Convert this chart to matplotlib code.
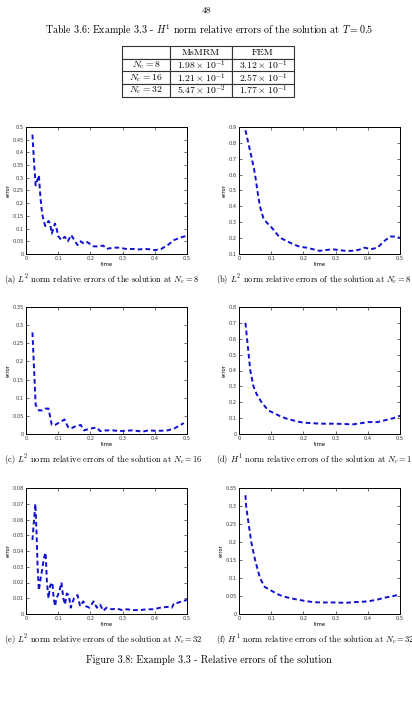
import matplotlib
matplotlib.use("Agg")
import matplotlib.pyplot as plt

plt.rcParams["mathtext.fontset"] = "cm"
plt.rcParams["axes.unicode_minus"] = False

# table data
nc_list = [8, 16, 32]
msmrm_err = [1.98e-1, 1.21e-1, 5.47e-2]
fem_err = [3.12e-1, 2.57e-1, 1.77e-1]

# (a) L2, Nc = 8
t_a = [0.02, 0.025, 0.03, 0.035, 0.04, 0.045, 0.05, 0.055, 0.06, 0.07, 0.075, 0.08,
       0.09, 0.095, 0.10, 0.11, 0.12, 0.13, 0.14, 0.15, 0.16, 0.17, 0.18, 0.19,
       0.21, 0.22, 0.24, 0.25, 0.27, 0.29, 0.31, 0.33, 0.35, 0.37, 0.39, 0.40,
       0.42, 0.44, 0.46, 0.48, 0.50]
e_a = [0.47, 0.36, 0.27, 0.29, 0.31, 0.22, 0.16, 0.13, 0.11, 0.13, 0.12, 0.08,
       0.12, 0.10, 0.07, 0.055, 0.068, 0.05, 0.075, 0.055, 0.035, 0.05, 0.04, 0.047,
       0.03, 0.03, 0.033, 0.02, 0.025, 0.025, 0.02, 0.02, 0.018, 0.02, 0.018, 0.015,
       0.02, 0.035, 0.055, 0.065, 0.072]

# (b) Nc = 8
t_b = [0.02, 0.03, 0.04, 0.05, 0.057, 0.065, 0.075, 0.085, 0.10, 0.12, 0.13, 0.15,
       0.17, 0.19, 0.21, 0.23, 0.25, 0.27, 0.29, 0.31, 0.33, 0.35, 0.37, 0.39,
       0.41, 0.43, 0.45, 0.47, 0.49, 0.50]
e_b = [0.88, 0.79, 0.70, 0.60, 0.50, 0.40, 0.33, 0.30, 0.27, 0.22, 0.20, 0.18,
       0.16, 0.145, 0.14, 0.13, 0.12, 0.125, 0.13, 0.125, 0.12, 0.12, 0.125, 0.14,
       0.13, 0.14, 0.18, 0.21, 0.21, 0.20]

# (c) L2, Nc = 16
t_c = [0.02, 0.03, 0.04, 0.05, 0.06, 0.07, 0.08, 0.09, 0.10, 0.12, 0.13, 0.14,
       0.15, 0.17, 0.18, 0.20, 0.22, 0.23, 0.25, 0.27, 0.29, 0.31, 0.33, 0.35,
       0.36, 0.38, 0.40, 0.42, 0.44, 0.46, 0.48, 0.49]
e_c = [0.28, 0.08, 0.065, 0.065, 0.07, 0.07, 0.025, 0.025, 0.03, 0.04, 0.02, 0.015,
       0.02, 0.025, 0.01, 0.015, 0.018, 0.008, 0.01, 0.01, 0.008, 0.009, 0.01, 0.008,
       0.006, 0.01, 0.009, 0.009, 0.01, 0.015, 0.025, 0.03]

# (d) H1, Nc = 16
t_d = [0.02, 0.025, 0.03, 0.035, 0.045, 0.055, 0.07, 0.09, 0.11, 0.13, 0.15, 0.17,
       0.19, 0.21, 0.23, 0.25, 0.29, 0.33, 0.35, 0.37, 0.40, 0.43, 0.45, 0.48, 0.50]
e_d = [0.70, 0.60, 0.50, 0.40, 0.30, 0.25, 0.20, 0.15, 0.13, 0.11, 0.095, 0.085,
       0.075, 0.07, 0.068, 0.065, 0.065, 0.063, 0.06, 0.065, 0.075, 0.075, 0.085, 0.10, 0.115]

# (e) L2, Nc = 32
t_e = [0.02, 0.023, 0.026, 0.029, 0.033, 0.036, 0.04, 0.045, 0.05, 0.055, 0.061,
       0.065, 0.07, 0.075, 0.082, 0.085, 0.09, 0.095, 0.103, 0.11, 0.116, 0.121,
       0.127, 0.133, 0.139, 0.149, 0.16, 0.168, 0.178, 0.186, 0.197, 0.21, 0.22,
       0.23, 0.24, 0.25, 0.267, 0.282, 0.298, 0.313, 0.334, 0.355, 0.375, 0.396,
       0.417, 0.438, 0.453, 0.46, 0.469, 0.484, 0.50]
e_e = [0.047, 0.055, 0.062, 0.07, 0.05, 0.03, 0.015, 0.022, 0.028, 0.035, 0.039,
       0.02, 0.01, 0.018, 0.02, 0.012, 0.005, 0.01, 0.014, 0.02, 0.01, 0.006,
       0.013, 0.012, 0.004, 0.01, 0.012, 0.005, 0.008, 0.005, 0.004, 0.008, 0.004,
       0.006, 0.002, 0.004, 0.003, 0.0035, 0.0025, 0.003, 0.0025, 0.0025, 0.003, 0.003,
       0.004, 0.0045, 0.004, 0.007, 0.007, 0.008, 0.009]

# (f) H1, Nc = 32
t_f = [0.02, 0.022, 0.03, 0.038, 0.05, 0.065, 0.08, 0.10, 0.12, 0.14, 0.17, 0.20,
       0.23, 0.26, 0.30, 0.33, 0.36, 0.40, 0.43, 0.45, 0.48, 0.50]
e_f = [0.33, 0.30, 0.25, 0.20, 0.15, 0.10, 0.075, 0.065, 0.055, 0.048, 0.042, 0.037,
       0.033, 0.032, 0.032, 0.031, 0.033, 0.035, 0.04, 0.045, 0.05, 0.055]

panels = [
    (t_a, e_a, 0.5, 0.05, "(a) $L^2$ norm relative errors of the solution at $N_c = 8$"),
    (t_b, e_b, 0.9, 0.1, "(b) $L^2$ norm relative errors of the solution at $N_c = 8$"),
    (t_c, e_c, 0.35, 0.05, "(c) $L^2$ norm relative errors of the solution at $N_c = 16$"),
    (t_d, e_d, 0.8, 0.1, "(d) $H^1$ norm relative errors of the solution at $N_c = 16$"),
    (t_e, e_e, 0.08, 0.01, "(e) $L^2$ norm relative errors of the solution at $N_c = 32$"),
    (t_f, e_f, 0.35, 0.05, "(f) $H^1$ norm relative errors of the solution at $N_c = 32$"),
]

W, H = 412, 701
fig = plt.figure(figsize=(W / 100, H / 100), dpi=100)
serif = "cmr10"

fig.text(206 / W, 1 - 11 / H, "48", ha="center", va="center", fontsize=7, family=serif)
fig.text(209 / W, 1 - 30 / H,
         "Table 3.6: Example 3.3 - $H^1$ norm relative errors of the solution at $T = 0.5$",
         ha="center", va="center", fontsize=7.2, family=serif)

# table
tax = fig.add_axes([122 / W, 1 - 97 / H, 172 / W, 51 / H])
tax.axis("off")


def sci(v):
    exp = int(f"{v:e}".split("e")[1])
    man = v / 10 ** exp
    return f"${man:.2f} \\times 10^{{{exp}}}$"


cells = [["", "MsMRM", "FEM"]]
for n, a, b in zip(nc_list, msmrm_err, fem_err):
    cells.append([f"$N_c = {n}$", sci(a), sci(b)])
tb = tax.table(cellText=cells, bbox=[0, 0, 1, 1], cellLoc="center",
               colWidths=[48, 62, 62])
tb.auto_set_font_size(False)
for (r, c), cell in tb.get_celld().items():
    cell.set_linewidth(0.8)
    cell.set_edgecolor("#333333")
    cell.get_text().set_fontsize(7)
    cell.get_text().set_family(serif)

rows_top = [127, 307, 488]
rows_bot = [254, 434, 614]
cols_left = [26, 239]
cap_y = [280, 460, 640]
cap_x = [4, 216]

for i, (t, e, ymax, ystep, cap) in enumerate(panels):
    r, c = divmod(i, 2)
    ax = fig.add_axes([cols_left[c] / W, 1 - rows_bot[r] / H, 161 / W,
                       (rows_bot[r] - rows_top[r]) / H])
    ax.plot(t, e, color="#1010d0", lw=1.4, dashes=(2.4, 1.6))
    ax.set_xlim(0, 0.5)
    lo = 0 if ymax < 0.9 else 0.1
    ax.set_ylim(lo, ymax)
    ax.set_xticks([0, 0.1, 0.2, 0.3, 0.4, 0.5])
    ax.set_xticklabels(["0", "0.1", "0.2", "0.3", "0.4", "0.5"])
    n = int(round((ymax - lo) / ystep))
    yt = [round(lo + k * ystep, 4) for k in range(n + 1)]
    ax.set_yticks(yt)
    ax.set_yticklabels([("%g" % v) for v in yt])
    ax.tick_params(direction="in", length=2, width=0.5, labelsize=3.6,
                   top=True, right=True, pad=1.5, colors="#333333")
    for s in ax.spines.values():
        s.set_linewidth(0.7)
    ax.set_xlabel("time", fontsize=3.8, labelpad=1)
    ax.set_ylabel("error", fontsize=3.8, labelpad=1.5)
    fig.text(cap_x[c] / W, 1 - cap_y[r] / H, cap, ha="left", va="center",
             fontsize=6.1, family=serif)

fig.text(209 / W, 1 - 660 / H, "Figure 3.8: Example 3.3 - Relative errors of the solution",
         ha="center", va="center", fontsize=7.2, family=serif)

fig.savefig("out.png", dpi=100)
